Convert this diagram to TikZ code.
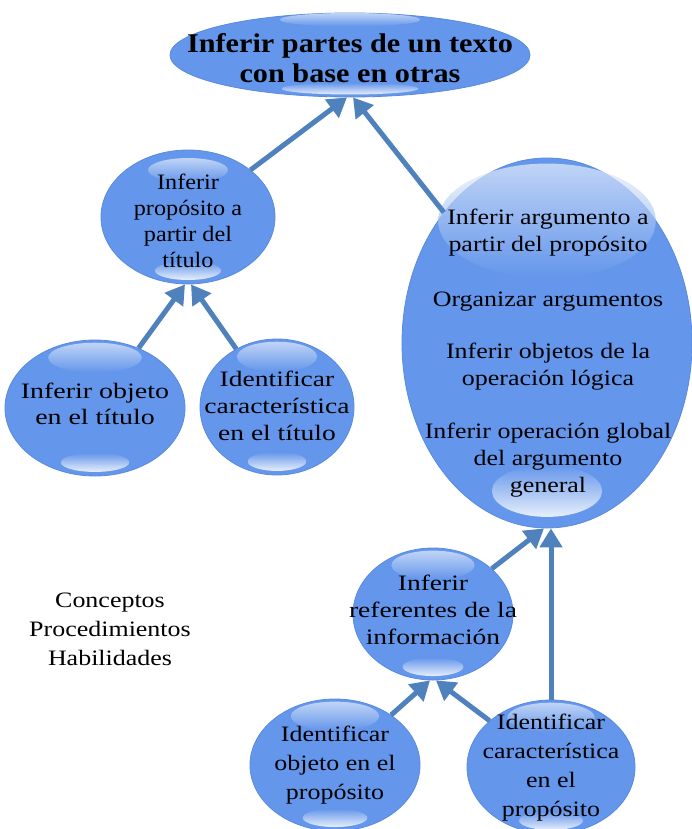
\documentclass[tikz,border=0pt]{standalone}
\usepackage{fontspec}
\setmainfont{Liberation Serif}
\newfontfamily\stA{Liberation Serif}[FakeStretch=1.27]
\newfontfamily\stB{Liberation Serif}[FakeStretch=1.25]
\newfontfamily\stC{Liberation Serif}[FakeStretch=1.18]
\newfontfamily\stD{Liberation Serif}[FakeStretch=1.10]
\newfontfamily\stT{Liberation Serif}[FakeStretch=1.12]
\usetikzlibrary{arrows.meta,shapes.geometric}
\definecolor{bfill}{RGB}{100,150,235}
\definecolor{bedge}{RGB}{88,138,222}
\definecolor{arrc}{RGB}{79,129,189}
\tikzset{
  bubshape/.style={ellipse, fill=bfill, draw=bedge, line width=0.8pt, inner sep=0pt},
  hltop/.style={top color=white!85!bfill, bottom color=bfill, fill opacity=0.7, draw=none},
  hlbot/.style={top color=bfill, bottom color=white, fill opacity=0.85, draw=none},
  txt/.style={align=center, inner sep=0pt},
  arr/.style={draw=arrc, line width=5pt, -{Triangle[width=22pt,length=19pt]}},
}
% name, x, y, rx, ry, top offset, top rx, top ry
\newcommand\bubble[8]{%
  \node[bubshape, minimum width={2*#4pt}, minimum height={2*#5pt}] (#1) at (#2,#3) {};
  \shade[hltop] (#2,{#3-#6*#5}) ellipse [x radius={#7*#4}, y radius={#8*#5}];
  \shade[hlbot] (#2,{#3+0.8*#5}) ellipse [x radius={0.38*#4}, y radius={0.14*#5}];
}
\begin{document}
\begin{tikzpicture}[x=1pt,y=-1pt]
\useasboundingbox (0,0) rectangle (692,829);
% bubbles
\bubble{top}{350}{55}{180}{42}{0.84}{0.39}{0.16}
\node[txt, font=\stT\bfseries\fontsize{27}{30}\selectfont] (topt) at (350,58) {Inferir partes de un texto\\con base en otras};

\bubble{prop}{188}{217}{87}{67}{0.70}{0.46}{0.18}
\node[txt, font=\stD\fontsize{22}{26}\selectfont] (propt) at (188,221) {Inferir\\propósito a\\partir del\\título};

\bubble{arg}{547}{343}{145}{185}{0.66}{0.75}{0.31}
\node[txt, font=\stC\fontsize{22}{27}\selectfont] (argt) at (548,353) {Inferir argumento a\\partir del propósito\\[28pt]Organizar argumentos\\[25pt]Inferir objetos de la\\operación lógica\\[26pt]Inferir operación global\\del argumento\\general};

\bubble{obj}{95}{408}{90}{68}{0.74}{0.52}{0.22}
\node[txt, font=\stA\fontsize{22}{26}\selectfont] (objt) at (95,404) {Inferir objeto\\en el título};

\bubble{car}{277}{407}{77}{68}{0.74}{0.52}{0.22}
\node[txt, font=\stB\fontsize{22}{27}\selectfont] (cart) at (277,406) {Identificar\\característica\\en el título};

\bubble{ref}{433}{614}{80}{66}{0.74}{0.52}{0.22}
\node[txt, font=\stB\fontsize{22}{27}\selectfont] (reft) at (433,610) {Inferir\\referentes de la\\información};

\bubble{objp}{335}{765}{85}{66}{0.74}{0.52}{0.22}
\node[txt, font=\stC\fontsize{22}{29}\selectfont] (objpt) at (335,765) {Identificar\\objeto en el\\propósito};

\bubble{carp}{551}{767}{84}{67}{0.74}{0.52}{0.22}
\node[txt, font=\stC\fontsize{22}{29}\selectfont] (carpt) at (551,768) {Identificar\\característica\\en el\\propósito};

% free text
\node[txt, font=\stC\fontsize{22}{29}\selectfont] (cph) at (110,629) {Conceptos\\Procedimientos\\Habilidades};

% connectors
\draw[arr] (prop) -- ([xshift=-3pt]top.south);
\draw[arr] (arg) -- ([xshift=3pt]top.south);
\draw[arr] (obj) -- ([xshift=-3pt]prop.south);
\draw[arr] (car) -- ([xshift=3pt]prop.south);
\draw[arr] (ref) -- ([xshift=-3pt]arg.south);
\draw[arr] (carp.north) -- (carp.north |- arg.south);
\draw[arr] (objp) -- ([xshift=-3pt]ref.south);
\draw[arr] (carp) -- ([xshift=3pt]ref.south);
\end{tikzpicture}
\end{document}
